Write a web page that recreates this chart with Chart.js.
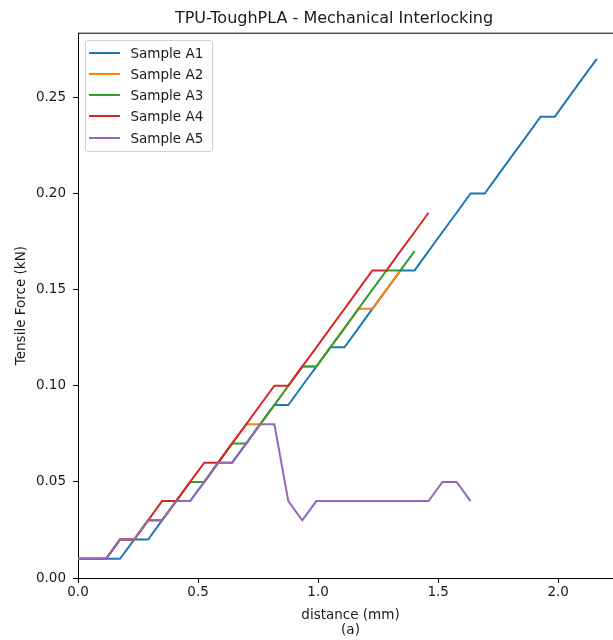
<!DOCTYPE html>
<html>
<head>
<meta charset="utf-8">
<script src="https://cdn.jsdelivr.net/npm/chart.js@4/dist/chart.umd.min.js"></script>
<style>
  html, body { margin: 0; padding: 0; background: #fff; overflow: hidden; }
  #wrap { position: relative; width: 668px; height: 640px; }
  #legend {
    position: absolute; left: 85px; top: 40px; width: 128px; height: 112px;
    box-sizing: border-box; border: 1px solid #d0d0d0; border-radius: 3px;
    background: rgba(255,255,255,0.8); padding-top: 1px;
    font-family: "DejaVu Sans", sans-serif; font-size: 13.5px; color: #1a1a1a;
  }
  #legend .row { display: flex; align-items: center; height: 21.25px; }
  #legend .swatch { margin-left: 3px; width: 31px; height: 2px; }
  #legend .label { margin-left: 10.5px; white-space: nowrap; }
</style>
</head>
<body>
<div id="wrap">
  <canvas id="myChart"></canvas>
  <div id="legend"></div>
</div>
<script>
// distance (mm) at each sample point
const distance = [0, 0.058, 0.117, 0.175, 0.234, 0.292, 0.350, 0.409, 0.467, 0.526,
  0.584, 0.642, 0.701, 0.759, 0.818, 0.876, 0.934, 0.993, 1.051, 1.110,
  1.168, 1.226, 1.285, 1.343, 1.402, 1.460, 1.518, 1.577, 1.635, 1.694,
  1.752, 1.810, 1.869, 1.927, 1.986, 2.044, 2.102, 2.161];

// tensile force (kN) for each sample
const sampleA1 = [0.01, 0.01, 0.01, 0.01, 0.02, 0.02, 0.03, 0.04, 0.04, 0.05,
  0.06, 0.06, 0.07, 0.08, 0.09, 0.09, 0.10, 0.11, 0.12, 0.12,
  0.13, 0.14, 0.15, 0.16, 0.16, 0.17, 0.18, 0.19, 0.20, 0.20,
  0.21, 0.22, 0.23, 0.24, 0.24, 0.25, 0.26, 0.27];
const sampleA2 = [0.01, 0.01, 0.01, 0.02, 0.02, 0.03, 0.03, 0.04, 0.05, 0.05,
  0.06, 0.07, 0.08, 0.08, 0.09, 0.10, 0.11, 0.11, 0.12, 0.13,
  0.14, 0.14, 0.15, 0.16];
const sampleA3 = [0.01, 0.01, 0.01, 0.02, 0.02, 0.03, 0.03, 0.04, 0.05, 0.05,
  0.06, 0.07, 0.07, 0.08, 0.09, 0.10, 0.11, 0.11, 0.12, 0.13,
  0.14, 0.15, 0.16, 0.16, 0.17];
const sampleA4 = [0.01, 0.01, 0.01, 0.02, 0.02, 0.03, 0.04, 0.04, 0.05, 0.06,
  0.06, 0.07, 0.08, 0.09, 0.10, 0.10, 0.11, 0.12, 0.13, 0.14,
  0.15, 0.16, 0.16, 0.17, 0.18, 0.19];
const sampleA5 = [0.01, 0.01, 0.01, 0.02, 0.02, 0.03, 0.03, 0.04, 0.04, 0.05,
  0.06, 0.06, 0.07, 0.08, 0.08, 0.04, 0.03, 0.04, 0.04, 0.04,
  0.04, 0.04, 0.04, 0.04, 0.04, 0.04, 0.05, 0.05, 0.04];

const seriesNames = ['Sample A1', 'Sample A2', 'Sample A3', 'Sample A4', 'Sample A5'];
const seriesValues = [sampleA1, sampleA2, sampleA3, sampleA4, sampleA5];
const colors = ['#1f77b4', '#ff7f0e', '#2ca02c', '#d62728', '#9467bd'];

const FONT = '"DejaVu Sans", sans-serif';
const TXT = '#1a1a1a';

const datasets = seriesValues.map((vals, i) => ({
  label: seriesNames[i],
  data: vals.map((v, j) => ({ x: distance[j], y: v })),
  borderColor: colors[i],
  backgroundColor: colors[i],
  borderWidth: 2,
  pointRadius: 0,
  tension: 0,
  fill: false,
  order: seriesValues.length - i  // later samples drawn on top, like matplotlib
}));

// top/right spines
const frame = {
  id: 'frame',
  afterDraw(chart) {
    const a = chart.chartArea, ctx = chart.ctx;
    ctx.save();
    ctx.strokeStyle = '#000';
    ctx.lineWidth = 1;
    ctx.beginPath();
    ctx.moveTo(a.left, a.top);
    ctx.lineTo(a.right, a.top);
    ctx.lineTo(a.right, a.bottom);
    ctx.stroke();
    ctx.restore();
  }
};

const ctx = document.getElementById('myChart').getContext('2d');
const chart = new Chart(ctx, {
  type: 'line',
  data: { datasets: datasets },
  options: {
    responsive: true,
    maintainAspectRatio: false,
    animation: false,
    layout: { padding: 0 },
    scales: {
      x: {
        type: 'linear',
        position: 'bottom',
        min: 0,
        max: 2.27,
        afterFit(s) { s.height = 62; },
        grid: { drawOnChartArea: false, drawTicks: true, tickLength: 5, color: '#000' },
        border: { display: true, color: '#000', width: 1 },
        ticks: {
          stepSize: 0.5, includeBounds: false, padding: 1, color: TXT,
          font: { family: FONT, size: 13.5 },
          maxRotation: 0,
          callback: v => v.toFixed(1)
        },
        title: {
          display: true,
          text: ['distance (mm)', '(a)'],
          color: TXT,
          font: { family: FONT, size: 13.5, lineHeight: 1.1 },
          padding: { top: 0, bottom: 2.5 }
        }
      },
      y: {
        type: 'linear',
        position: 'left',
        min: 0,
        max: 0.2834,
        afterFit(s) { s.width = 78; },
        grid: { drawOnChartArea: false, drawTicks: true, tickLength: 5, color: '#000' },
        border: { display: true, color: '#000', width: 1 },
        ticks: {
          stepSize: 0.05, includeBounds: false, padding: 7, color: TXT,
          font: { family: FONT, size: 13.5 },
          callback: v => v.toFixed(2)
        },
        title: {
          display: true,
          text: 'Tensile Force (kN)',
          color: TXT,
          font: { family: FONT, size: 13.5 },
          padding: { top: 13, bottom: 0 }
        }
      },
      // empty right-hand box so the plot area ends where the original one does
      yRight: {
        type: 'linear',
        position: 'right',
        display: true,
        afterFit(s) { s.width = 45; },
        grid: { display: false },
        border: { display: false },
        ticks: { display: false }
      }
    },
    plugins: {
      title: {
        display: true,
        text: 'TPU-ToughPLA - Mechanical Interlocking',
        color: TXT,
        font: { family: FONT, size: 16, weight: 'normal', lineHeight: 1.2 },
        padding: { top: 9, bottom: 5 }
      },
      legend: { display: false },
      tooltip: { enabled: false }
    }
  },
  plugins: [frame]
});

// legend box in the upper left of the plot
const legendEl = document.getElementById('legend');
chart.data.datasets.forEach(ds => {
  const row = document.createElement('div');
  row.className = 'row';
  const sw = document.createElement('span');
  sw.className = 'swatch';
  sw.style.background = ds.borderColor;
  const lb = document.createElement('span');
  lb.className = 'label';
  lb.textContent = ds.label;
  row.appendChild(sw);
  row.appendChild(lb);
  legendEl.appendChild(row);
});
</script>
</body>
</html>
